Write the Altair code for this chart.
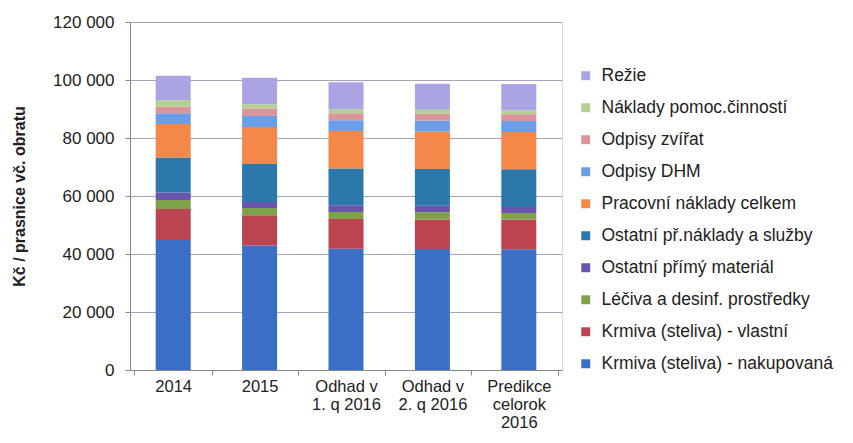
import altair as alt
import pandas as pd

categories = ["2014", "2015", "Odhad v|1. q 2016", "Odhad v|2. q 2016", "Predikce|celorok|2016"]
series = [
    "Krmiva (steliva) - nakupovaná",
    "Krmiva (steliva) - vlastní",
    "Léčiva a desinf. prostředky",
    "Ostatní přímý materiál",
    "Ostatní př.náklady a služby",
    "Pracovní náklady celkem",
    "Odpisy DHM",
    "Odpisy zvířat",
    "Náklady pomoc.činností",
    "Režie",
]
colors = ["#3b6fc6", "#bb4450", "#7ea24a", "#6a54ad", "#2c78aa", "#f4874a",
          "#6b9ee8", "#d9959a", "#b4cf90", "#aaa4e3"]

nakupovana = [44800, 42900, 41800, 41700, 41600]
vlastni = [10700, 10500, 10300, 10200, 10300]
leciva = [3100, 2500, 2400, 2500, 2200]
ostatni_mat = [2600, 2000, 2300, 2200, 2100]
ostatni_sluzby = [12100, 13100, 12700, 12700, 13000]
pracovni = [11500, 12800, 12900, 12900, 12900]
odpisy_dhm = [3700, 3800, 3700, 3800, 3800]
odpisy_zvirat = [2300, 2600, 2400, 2400, 2300]
pomoc = [2200, 1400, 1400, 1300, 1300]
rezie = [8500, 9200, 9300, 9000, 9100]

values = [nakupovana, vlastni, leciva, ostatni_mat, ostatni_sluzby, pracovni,
          odpisy_dhm, odpisy_zvirat, pomoc, rezie]

rows = []
for si, (s, vals) in enumerate(zip(series, values)):
    for c, v in zip(categories, vals):
        rows.append({"cat": c, "series": s, "value": v, "idx": si})
df = pd.DataFrame(rows)

chart = alt.Chart(df).mark_bar(size=35).encode(
    x=alt.X("cat:N", sort=categories, title=None,
            axis=alt.Axis(labelAngle=0, labelExpr="split(datum.label, '|')",
                          tickBand="extent", labelFontSize=16.5, labelColor="#222",
                          domainColor="#888", tickColor="#888", labelPadding=3,
                          labelLineHeight=18)),
    y=alt.Y("value:Q", stack="zero", title="Kč / prasnice vč. obratu",
            scale=alt.Scale(domain=[0, 120000]),
            axis=alt.Axis(values=[0, 20000, 40000, 60000, 80000, 100000, 120000],
                          labelExpr="replace(format(datum.value, ','), ',', ' ')",
                          labelFontSize=17, labelColor="#222", titleFontSize=16,
                          titleFontWeight="bold", titleColor="#222", titlePadding=25,
                          domainColor="#888", tickColor="#888", gridColor="#a4a4bc",
                          labelPadding=11)),
    color=alt.Color("series:N", scale=alt.Scale(domain=series[::-1], range=colors[::-1]),
                    legend=alt.Legend(title=None, orient="none", legendX=447, legendY=45,
                                      labelFontSize=17.5, labelColor="#222",
                                      symbolType="square", symbolSize=80,
                                      symbolStrokeWidth=0, rowPadding=13,
                                      labelOffset=7, labelLimit=400)),
    order=alt.Order("idx:Q", sort="ascending"),
).properties(
    width=432, height=348,
    autosize=alt.AutoSizeParams(type="none"),
    padding={"left": 122, "top": 14, "right": 283, "bottom": 63},
).configure_view(stroke=None).configure(
    font="Liberation Sans", background="white"
)

chart.save("out.html", embed_options={"renderer": "svg", "actions": False})
